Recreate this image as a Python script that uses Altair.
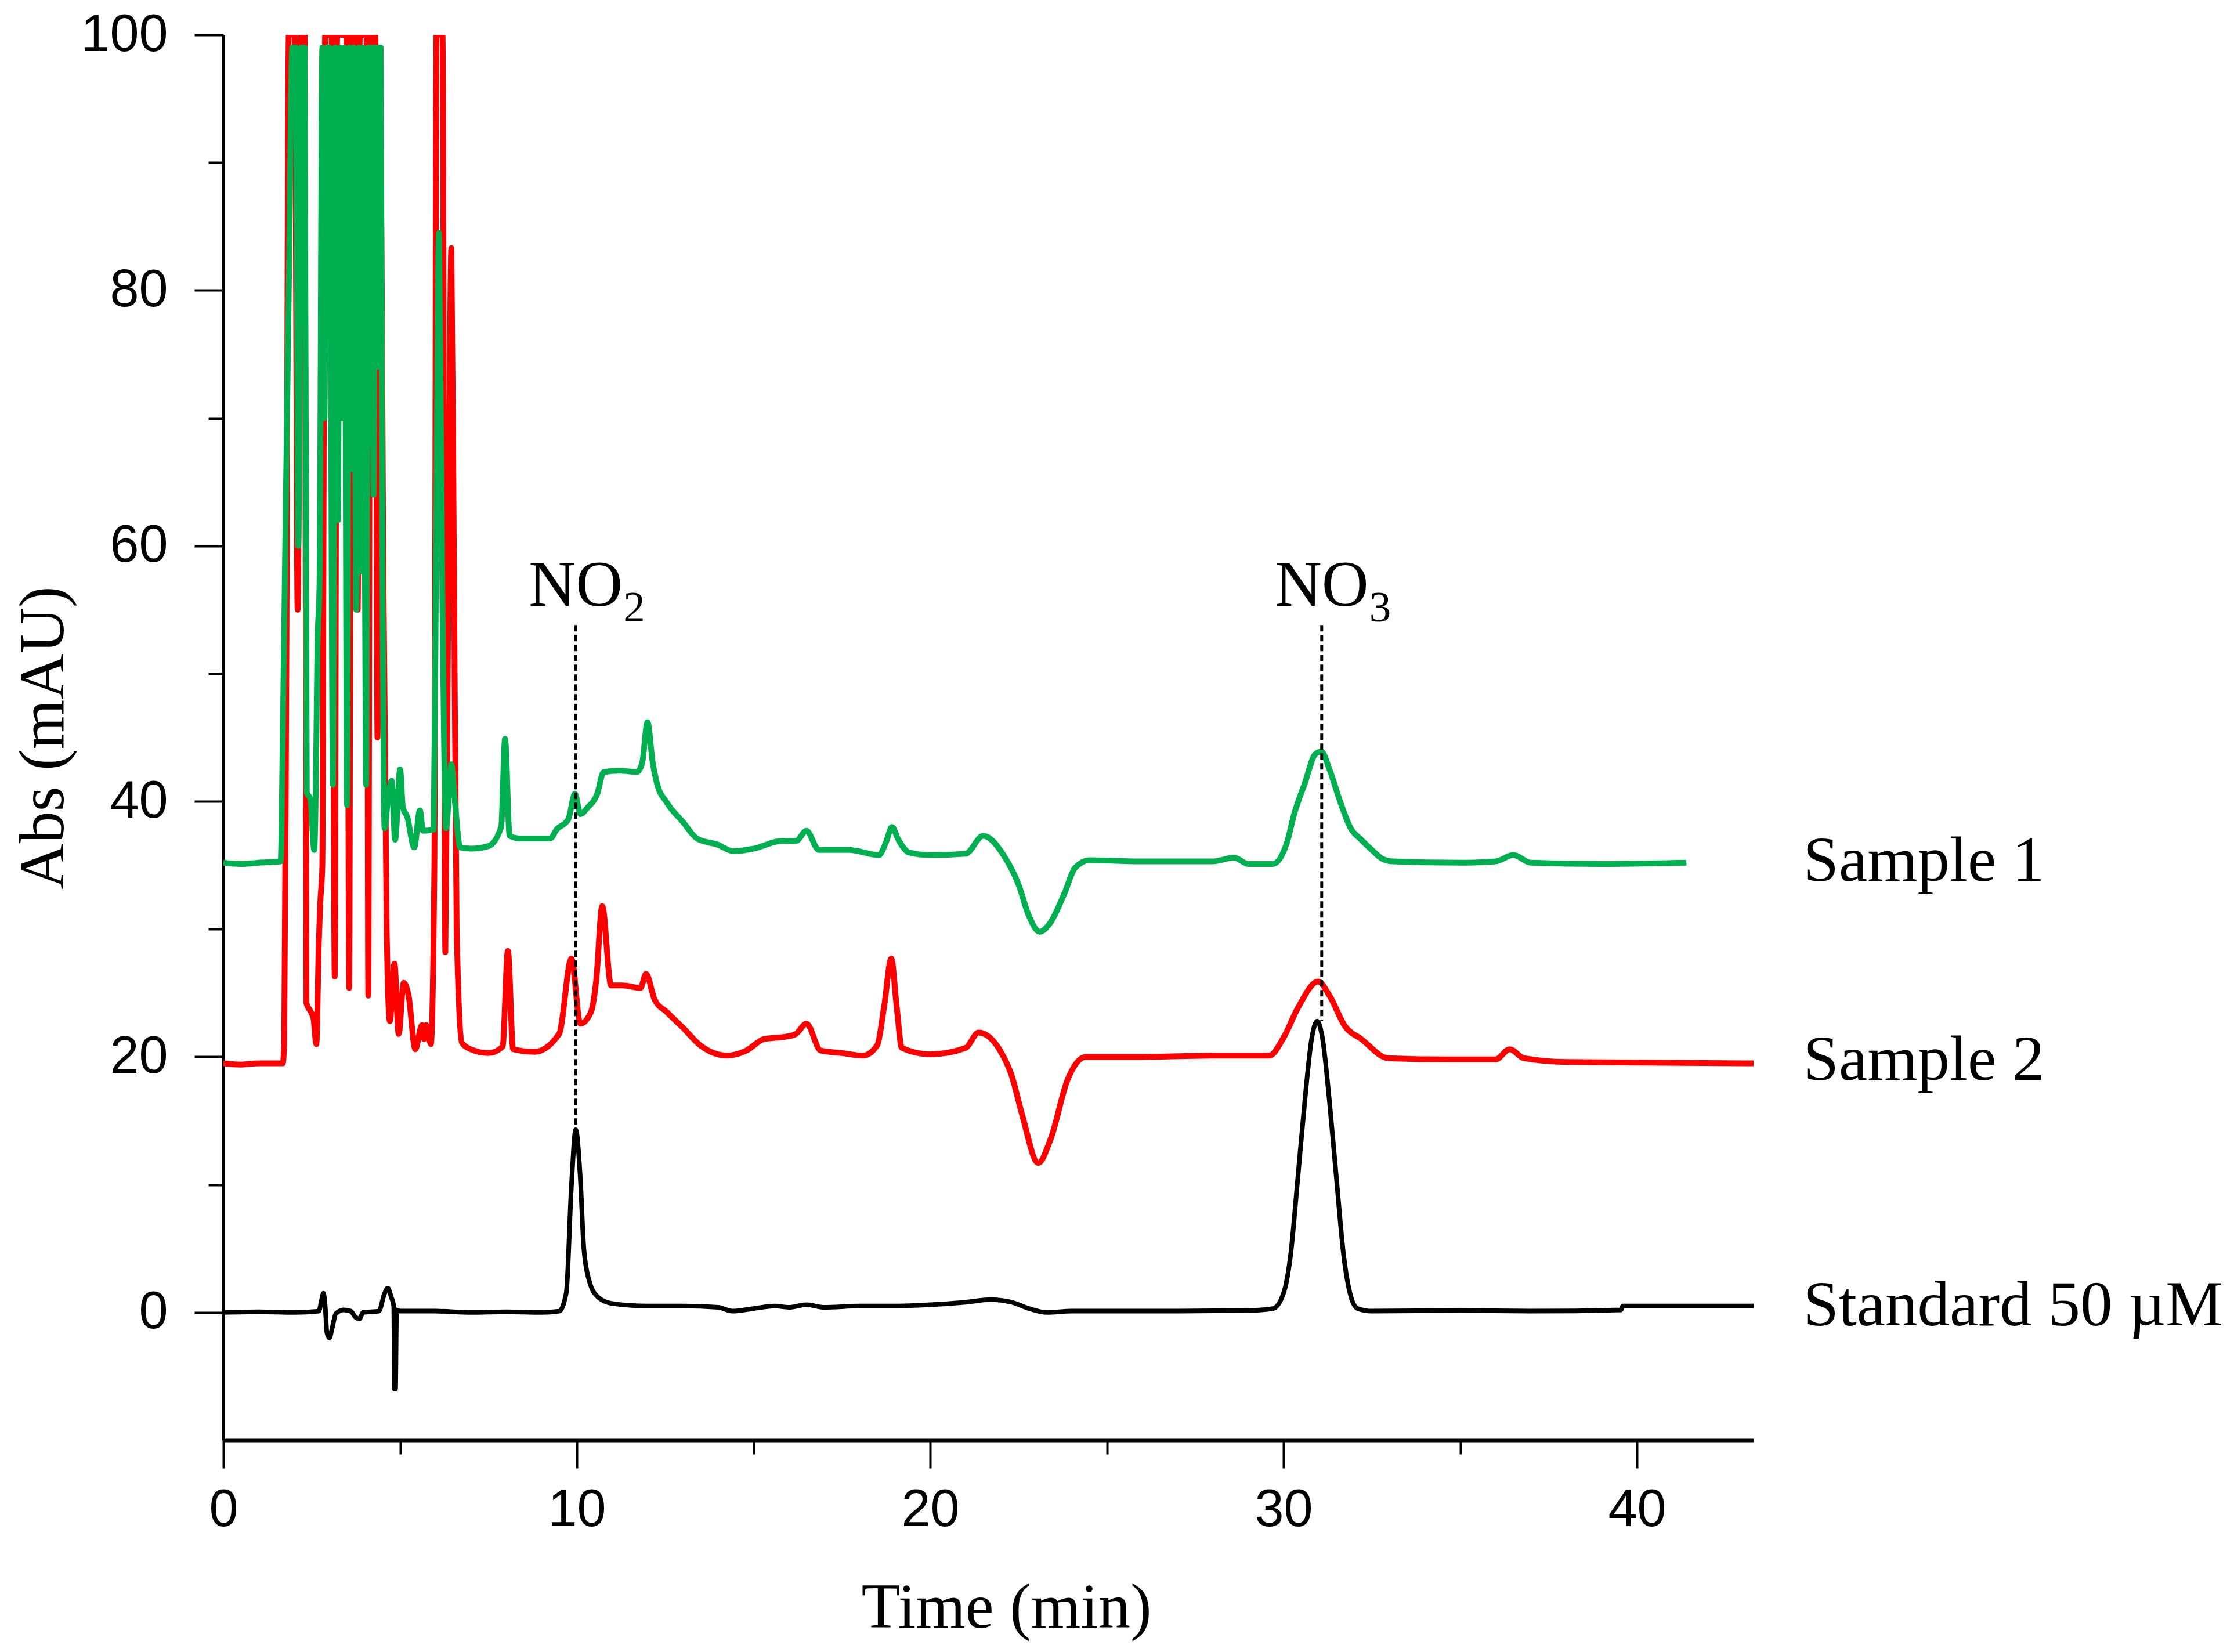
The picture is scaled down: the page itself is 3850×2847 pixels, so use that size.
import altair as alt
import pandas as pd

# ---------------- data ----------------
# Standard 50 µM (black)
std_t = [0, 1.0, 2.0, 2.7, 2.78, 2.83, 2.88, 2.93, 3.0, 3.08, 3.18, 3.4, 3.6, 3.75, 3.85, 3.95,
         4.4, 4.55, 4.65, 4.75, 4.82, 4.84, 4.87, 4.9, 5.0, 6.0, 7.0, 8.0, 9.0, 9.5, 9.7, 9.85,
         9.97, 10.1, 10.2, 10.35, 10.6, 11.0, 12.0, 13.0, 14.0, 14.4, 15.0, 15.6, 16.0, 16.5,
         17.0, 18.0, 19.0, 20.0, 21.0, 21.7, 22.3, 22.8, 23.3, 24.0, 25.0, 27.0, 29.0, 29.7,
         30.0, 30.2, 30.4, 30.6, 30.8, 30.95, 31.1, 31.3, 31.5, 31.7, 31.9, 32.1, 32.5, 35.0,
         37.0, 39.55, 39.6, 43.3]
std_v = [0.0, 0.05, 0.0, 0.1, 1.0, 1.5, 0.5, -1.6, -2.0, -1.2, -0.1, 0.2, 0.1, -0.4, -0.5, 0.0,
         0.1, 1.4, 1.9, 1.2, 0.5, -6.0, -6.0, 0.2, 0.1, 0.1, 0.0, 0.05, 0.0, 0.1, 1.5, 10.0,
         14.3, 10.5, 5.0, 2.5, 1.2, 0.7, 0.5, 0.5, 0.4, 0.1, 0.3, 0.5, 0.4, 0.6,
         0.4, 0.5, 0.5, 0.6, 0.8, 1.0, 0.8, 0.3, 0.0, 0.1, 0.1, 0.1, 0.15, 0.3,
         1.5, 4.5, 10.4, 16.5, 21.5, 22.8, 21.5, 16.5, 10.4, 4.5, 1.3, 0.3, 0.1, 0.15,
         0.1, 0.2, 0.5, 0.5]

# Sample 1 (green)
s1_t = [0, 0.5, 1.0, 1.62, 1.68, 1.75, 1.85, 1.95, 2.05, 2.12, 2.2, 2.3, 2.36, 2.46, 2.57, 2.62,
        2.66, 2.72, 2.8, 2.86, 2.92, 3.0, 3.1, 3.16, 3.24, 3.3, 3.36, 3.42, 3.5, 3.56, 3.62, 3.68,
        3.76, 3.84, 3.9, 3.95, 4.0, 4.04, 4.1, 4.15, 4.2, 4.25, 4.3, 4.35, 4.4, 4.45, 4.5,
        4.56, 4.65, 4.76, 4.86, 5.0, 5.08, 5.2, 5.4, 5.56, 5.65, 5.95, 6.02,
        6.1, 6.2, 6.3, 6.45, 6.55, 6.7, 7.0, 7.5, 7.86, 7.97, 8.1, 8.4, 9.25, 9.43, 9.76, 9.95,
        10.1, 10.3, 10.58, 10.76, 11.23, 11.7, 11.85, 12.0, 12.15, 12.27, 12.55, 13.0, 13.4,
        14.0, 14.43, 15.0, 15.8, 16.2, 16.5, 16.85, 17.7, 18.55, 18.75, 18.92, 19.1, 19.4,
        20.0, 21.0, 21.5, 22.12, 22.5, 22.8, 23.1, 23.4, 23.8, 24.1, 24.5, 26.0, 28.0, 28.6,
        29.0, 29.7, 30.1, 30.3, 30.6, 30.9, 31.07, 31.3, 31.6, 31.9, 32.2, 32.5, 32.8, 33.1,
        35.0, 36.0, 36.5, 37.0, 39.0, 41.4]
s1_v = [35.2, 35.1, 35.2, 35.3, 45, 60, 80, 99, 99, 60, 99, 99, 40.7, 40.2, 36.2, 42,
        52, 57, 99, 70, 99, 99, 41.3, 99, 62, 99, 70, 99, 39.7, 99, 66, 99,
        55, 99, 58, 99, 62, 41.3, 99, 68, 99, 64, 99, 74, 99, 99, 60,
        37.9, 40, 41.6, 37.0, 42.5, 39.5, 38.8, 36.4, 39.3, 37.7, 37.8, 60,
        84.5, 55, 37.9, 42.9, 40, 36.4, 36.3, 36.5, 38.0, 44.9, 37.3, 37.1, 37.1, 37.8, 38.6, 40.6,
        39.0, 39.5, 40.6, 42.3, 42.4, 42.3, 43, 46.2, 43, 41.4, 39.9, 38.4, 37.1,
        36.6, 36.1, 36.3, 36.9, 36.9, 37.7, 36.2, 36.2, 35.8, 36.8, 38.0, 37, 36.0,
        35.8, 35.9, 37.3, 35.6, 33.5, 31.0, 29.8, 30.5, 32.8, 34.8, 35.4, 35.3, 35.3, 35.6,
        35.1, 35.1, 36.8, 39.0, 41.4, 43.7, 43.9, 42.5, 40.0, 37.9, 37.0, 36.2, 35.5, 35.3,
        35.2, 35.3, 35.8, 35.2, 35.1, 35.2]

# Sample 2 (red)
s2_t = [0, 0.5, 1.0, 1.68, 1.72, 1.78, 1.85, 2.02, 2.1, 2.2, 2.3, 2.35, 2.48, 2.55, 2.63, 2.7,
        2.74, 2.8, 2.88, 3.06, 3.15, 3.22, 3.48, 3.56, 3.62, 3.74, 3.8, 3.86, 4.05, 4.1, 4.16,
        4.3, 4.36, 4.45, 4.52, 4.62, 4.71, 4.84, 4.96, 5.1, 5.24, 5.43, 5.62, 5.68, 5.74, 5.87,
        5.97, 6.03, 6.2, 6.28, 6.36, 6.45, 6.52, 6.6, 6.75, 7.0, 7.5, 7.9, 8.05, 8.2, 8.8, 9.5,
        9.85, 10.1, 10.4, 10.55, 10.72, 10.97, 11.3, 11.8, 11.96, 12.2, 12.55, 13.0, 13.5,
        14.27, 14.8, 15.3, 15.95, 16.2, 16.5, 16.9, 17.5, 18.1, 18.5, 18.7, 18.9, 19.05, 19.2,
        20.0, 21.0, 21.37, 22.0, 22.3, 22.6, 23.06, 23.4, 23.9, 24.4, 26.0, 28.0, 29.6, 30.0,
        30.4, 30.98, 31.3, 31.74, 32.2, 32.96, 34.75, 36.0, 36.4, 36.8, 38.0, 43.3]
s2_v = [19.5, 19.4, 19.5, 19.5, 21, 50, 100, 100, 55, 100, 100, 24.2, 23.5, 23.0, 21.0, 29,
        32, 35, 100, 100, 26.3, 100, 100, 25.4, 100, 100, 55, 100, 100, 24.8, 100,
        100, 45, 93, 60, 30, 22.8, 27.3, 21.8, 25.8, 24.8, 20.6, 22.5, 21.4, 22.5, 21.0,
        35, 100, 100, 28.2, 55, 83.3, 60, 30, 21.1, 20.6, 20.3, 20.8, 28.3, 20.6, 20.4, 21.8,
        27.7, 22.6, 23.5, 26, 31.8, 25.6, 25.6, 25.4, 26.5, 24.5, 23.5, 22.3, 20.9,
        20.1, 20.5, 21.4, 21.6, 21.8, 22.6, 20.5, 20.3, 20.1, 20.9, 24, 27.7, 24, 20.7,
        20.2, 20.7, 21.9, 20.4, 18.6, 15.5, 11.7, 13.5, 18.3, 20.0, 20.0, 20.1, 20.1, 21.5,
        23.8, 25.9, 24.8, 22.4, 21.4, 19.9, 19.8, 19.8, 20.6, 19.9, 19.6, 19.5]

series_names = ["Sample 1", "Sample 2", "Standard 50 µM"]
series_colors = ["#00B050", "#FF0000", "#000000"]
series_widths = [10, 10, 8]

label_x = [44.7, 44.7, 44.7]
label_y = [35.3, 19.7, 0.5]

peak_base = ["NO", "NO"]
peak_sub = ["2", "3"]
peak_t = [9.97, 31.08]
peak_label_y = [55.3, 55.3]
peak_line_top = [53.8, 53.8]
peak_line_bottom = [14.3, 22.8]

x_major = [0, 10, 20, 30, 40]
x_minor = [5, 15, 25, 35]
y_major = [0, 20, 40, 60, 80, 100]
y_minor = [10, 30, 50, 70, 90]
x_domain = [0, 43.3]
y_domain = [-10, 100]

# ---------------- tables ----------------
def trace(t, v, name):
    return pd.DataFrame({"t": t, "v": v, "series": name, "i": range(len(t))})

df_std = trace(std_t, std_v, series_names[2])
df_s1 = trace(s1_t, s1_v, series_names[0])
df_s2 = trace(s2_t, s2_v, series_names[1])
df_labels = pd.DataFrame({"x": label_x, "y": label_y, "text": series_names})
df_peaks = pd.DataFrame({"t": peak_t, "y": peak_label_y, "base": peak_base, "sub": peak_sub,
                         "top": peak_line_top, "bottom": peak_line_bottom})

xs = alt.Scale(domain=x_domain, nice=False, zero=False)
ys = alt.Scale(domain=y_domain, nice=False, zero=False)

SERIF = "Liberation Serif"
SANS = "Liberation Sans"

x_axis_main = alt.Axis(orient="bottom", values=x_major, tickSize=48, tickWidth=4, tickColor="black",
                       domainColor="black", domainWidth=6, labelFont=SANS, labelFontSize=90,
                       labelColor="black", labelPadding=28, labelFlush=False, grid=False,
                       title="Time (min)", titleFont=SERIF, titleFontSize=110,
                       titleFontWeight="normal", titleColor="black", titleX=1349, titleY=322,
                       titleAlign="center", titleBaseline="alphabetic")
y_axis_main = alt.Axis(orient="left", values=y_major, tickSize=50, tickWidth=4, tickColor="black",
                       domainColor="black", domainWidth=5, labelFont=SANS, labelFontSize=90,
                       labelColor="black", labelPadding=46, grid=False,
                       title="Abs (mAU)", titleFont=SERIF, titleFontSize=110,
                       titleFontWeight="normal", titleColor="black", titleX=-310, titleY=1211,
                       titleAngle=270, titleAlign="center", titleBaseline="middle")
x_axis_minor = alt.Axis(orient="bottom", values=x_minor, tickSize=24, tickWidth=4, tickColor="black",
                        domain=False, labels=False, grid=False, title=None)
y_axis_minor = alt.Axis(orient="left", values=y_minor, tickSize=26, tickWidth=4, tickColor="black",
                        domain=False, labels=False, grid=False, title=None)


def line_layer(df, color, width, xa=None, ya=None):
    xenc = alt.X("t:Q", scale=xs, axis=xa) if xa is not None else alt.X("t:Q", scale=xs, axis=None)
    yenc = alt.Y("v:Q", scale=ys, axis=ya) if ya is not None else alt.Y("v:Q", scale=ys, axis=None)
    return alt.Chart(df).mark_line(color=color, strokeWidth=width, clip=True,
                                   interpolate="monotone",
                                   strokeJoin="round").encode(x=xenc, y=yenc, order="i:Q")


black = line_layer(df_std, series_colors[2], series_widths[2], x_axis_main, y_axis_main)
red = line_layer(df_s2, series_colors[1], series_widths[1])
green = line_layer(df_s1, series_colors[0], series_widths[0])

minor = alt.Chart(df_std).mark_point(opacity=0).encode(
    x=alt.X("t:Q", scale=xs, axis=x_axis_minor),
    y=alt.Y("v:Q", scale=ys, axis=y_axis_minor),
)

rules = alt.Chart(df_peaks).mark_rule(color="black", strokeWidth=5, strokeDash=[11, 6]).encode(
    x=alt.X("t:Q", scale=xs, axis=None),
    y=alt.Y("top:Q", scale=ys, axis=None),
    y2="bottom:Q",
)

peak_text = alt.Chart(df_peaks).mark_text(font=SERIF, fontSize=112, align="center",
                                          baseline="alphabetic", color="black").encode(
    x=alt.X("t:Q", scale=xs, axis=None),
    y=alt.Y("y:Q", scale=ys, axis=None),
    text="base:N",
)
peak_subtext = alt.Chart(df_peaks).mark_text(font=SERIF, fontSize=75, align="left",
                                             baseline="alphabetic", color="black",
                                             dx=82, dy=27).encode(
    x=alt.X("t:Q", scale=xs, axis=None),
    y=alt.Y("y:Q", scale=ys, axis=None),
    text="sub:N",
)

labels = alt.Chart(df_labels).mark_text(font=SERIF, fontSize=111, align="left",
                                        baseline="middle", color="black").encode(
    x=alt.X("x:Q", scale=xs, axis=None),
    y=alt.Y("y:Q", scale=ys, axis=None),
    text="text:N",
)

chart = alt.layer(black, red, green, minor, rules, peak_text, peak_subtext, labels).resolve_axis(
    x="independent", y="independent"
).properties(
    width=2637, height=2422,
    autosize=alt.AutoSizeParams(type="none"),
    padding={"left": 377, "top": 52, "right": 820, "bottom": 357},
    background="white",
).configure_view(stroke="transparent")

chart.save("out.html", embed_options={"renderer": "svg", "actions": False})
